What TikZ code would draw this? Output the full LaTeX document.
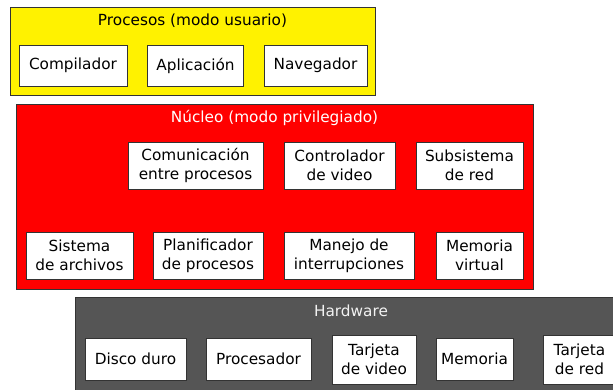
\documentclass[tikz,border=0pt]{standalone}
\usepackage{fontspec}
\setmainfont{DejaVu Sans}
\definecolor{hwgray}{HTML}{555555}
\definecolor{edge}{HTML}{333333}
\begin{document}
\begin{tikzpicture}[x=1pt,y=-1pt,
  txt/.style={font={\fontsize{15.3}{19}\selectfont}},
  frame/.style={draw=edge, line width=1pt, inner sep=0pt},
  item/.style={txt, draw=edge, fill=white, line width=1pt, inner sep=0pt, align=center},
  ttl/.style={txt, inner sep=0pt}]
\useasboundingbox (0,0) rectangle (613,389);
\clip (0,0) rectangle (613,389);
% user processes
\node[frame, fill=yellow, minimum width=365pt, minimum height=88pt] (user) at (192.5,51) {};
\node[ttl, text=black] (usert) at (192.5,21) {Procesos (modo usuario)};
\node[item, minimum width=108pt, minimum height=41pt] (comp) at (73,65.5) {Compilador};
\node[item, minimum width=96pt, minimum height=41pt] (apl) at (195.5,65.5) {Aplicación};
\node[item, minimum width=103pt, minimum height=41pt] (nav) at (315.5,65.5) {Navegador};
% kernel
\node[frame, fill=red, minimum width=517pt, minimum height=185pt] (kern) at (274.5,196.5) {};
\node[ttl, text=white] (kernt) at (274.5,118) {Núcleo (modo privilegiado)};
\node[item, minimum width=135pt, minimum height=47pt] (ipc) at (195.5,165.5) {Comunicación\\entre procesos};
\node[item, minimum width=111pt, minimum height=47pt] (vid) at (339.5,165.5) {Controlador\\de video};
\node[item, minimum width=107pt, minimum height=47pt] (net) at (469.5,165.5) {Subsistema\\de red};
\node[item, minimum width=107pt, minimum height=47pt] (fs) at (79.5,255.5) {Sistema\\de archivos};
\node[item, minimum width=110pt, minimum height=47pt] (sched) at (208,255.5) {Planificador\\de procesos};
\node[item, minimum width=130pt, minimum height=47pt] (irq) at (349,255.5) {Manejo de\\interrupciones};
\node[item, minimum width=87pt, minimum height=47pt] (vm) at (479.5,255.5) {Memoria\\virtual};
% hardware
\node[frame, fill=hwgray, minimum width=552pt, minimum height=103pt] (hw) at (351,348.5) {};
\node[ttl, text=black!5] (hwt) at (351,311) {Hardware};
\node[item, minimum width=101pt, minimum height=42pt] (disk) at (135.5,359) {Disco duro};
\node[item, minimum width=105pt, minimum height=42pt] (cpu) at (258.5,359) {Procesador};
\node[item, minimum width=84pt, minimum height=49pt] (gpu) at (374,359.5) {Tarjeta\\de video};
\node[item, minimum width=77pt, minimum height=42pt] (mem) at (474.5,359) {Memoria};
\node[item, minimum width=73pt, minimum height=49pt] (nic) at (579.5,359.5) {Tarjeta\\de red};
\end{tikzpicture}
\end{document}
